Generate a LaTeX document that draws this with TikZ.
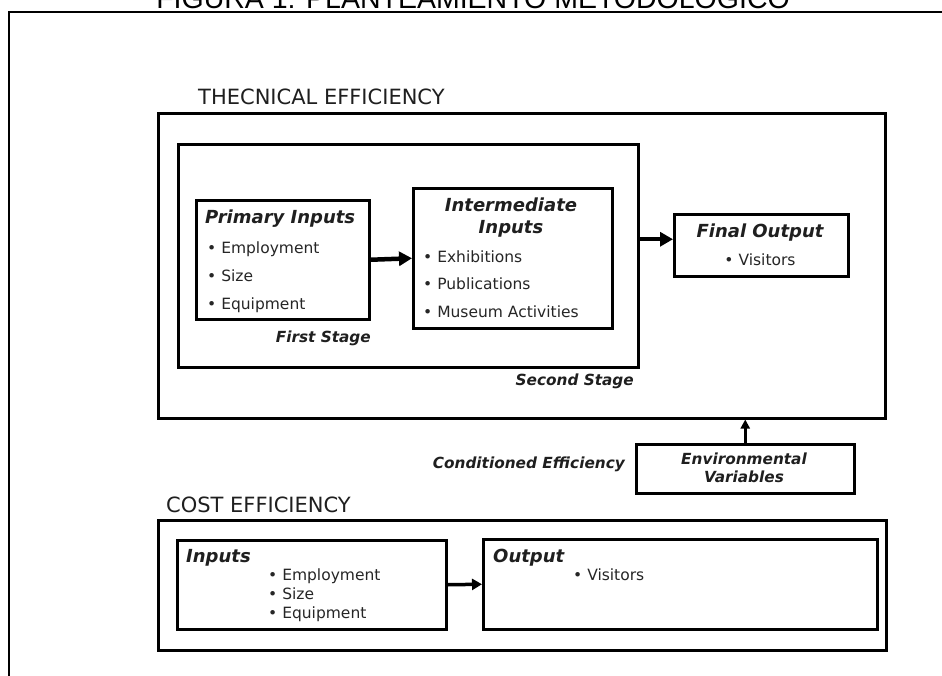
\documentclass[tikz,border=0pt]{standalone}
\usepackage{fontspec}
\setmainfont{DejaVu Sans}
\newfontfamily\titlefont{Liberation Sans}
\usetikzlibrary{arrows.meta}
\begin{document}
\begin{tikzpicture}[x=1pt,y=-1pt,
  box/.style={draw=black, line width=2.5pt, inner sep=0pt, anchor=north west},
  heading/.style={font=\bfseries\itshape\fontsize{18}{20}\selectfont, inner sep=0pt, text=black!88},
  stagelbl/.style={font=\bfseries\itshape\fontsize{15.3}{18}\selectfont, inner sep=0pt, text=black!88},
  itemtxt/.style={font=\fontsize{15.5}{18}\selectfont, inner sep=0pt, text=black!85, anchor=base west},
  sectiontxt/.style={font=\fontsize{21}{24}\selectfont, inner sep=0pt, text=black!88, anchor=base west},
  bigarrow/.style={line width=4.5pt, -{Triangle[length=13pt,width=14pt]}},
  midarrow/.style={line width=3.5pt, -{Triangle[length=10pt,width=11pt]}},
  smallarrow/.style={line width=3pt, -{Triangle[length=9pt,width=9pt]}}
]
\useasboundingbox (0,0) rectangle (942,675);
\fill[white] (0,0) rectangle (942,675);

% title (cut off at top, as in the reference)
\node[font=\titlefont\fontsize{28.5}{30}\selectfont, inner sep=0pt, anchor=base] (title) at (473,8) {FIGURA 1: PLANTEAMIENTO METODOLÓGICO};
% outer frame
\coordinate (frtr) at (945,12);
\coordinate (frtl) at (9,12);
\coordinate (frbl) at (9,678);
\draw[line width=2pt] (frtr) -- (frtl) -- (frbl);

% technical efficiency
\node[sectiontxt] (telbl) at (198,104) {THECNICAL EFFICIENCY};
\node[box, minimum width=727pt, minimum height=305pt] (te) at (157,112) {};
\node[box, line width=3pt, minimum width=460pt, minimum height=223pt] (ss) at (177,143) {};
\node[box, minimum width=173pt, minimum height=119pt] (pi) at (195,199) {};
\node[box, minimum width=199pt, minimum height=140pt] (ii) at (412,187) {};
\node[box, minimum width=174pt, minimum height=62pt] (fo) at (673,213) {};

\node[heading, anchor=base west] (pih) at (205,223) {Primary Inputs};
\node[itemtxt] (pi1) at (207,253) {\textbullet\ Employment};
\node[itemtxt] (pi2) at (207,281) {\textbullet\ Size};
\node[itemtxt] (pi3) at (207,309) {\textbullet\ Equipment};

\node[heading, anchor=base] (iih1) at (511,211) {Intermediate};
\node[heading, anchor=base] (iih2) at (511,233) {Inputs};
\node[itemtxt] (ii1) at (423,262) {\textbullet\ Exhibitions};
\node[itemtxt] (ii2) at (423,289) {\textbullet\ Publications};
\node[itemtxt] (ii3) at (423,317) {\textbullet\ Museum Activities};

\node[stagelbl, anchor=base east] (fs) at (371,342) {First Stage};
\node[stagelbl, anchor=base east] (sst) at (634,385) {Second Stage};

\node[heading, anchor=base] (foh) at (760,237) {Final Output};
\node[itemtxt, anchor=base] (fo1) at (760,265) {\textbullet\ Visitors};

\draw[bigarrow] (pi.east) -- (ii.west);
\coordinate (foin) at ([yshift=6pt]fo.west);
\draw[bigarrow, line width=4pt] (ss.east |- foin) -- (foin);

% environmental variables
\node[box, minimum width=218pt, minimum height=49pt] (ev) at (635,443) {};
\node[stagelbl, anchor=base] (ev1) at (744,464) {Environmental};
\node[stagelbl, anchor=base] (ev2) at (744,482) {Variables};
\node[stagelbl, anchor=base east] (cond) at (625,468) {Conditioned Efficiency};
\draw[smallarrow] (ev.north) -- (ev.north |- te.south);

% cost efficiency
\node[sectiontxt] (celbl) at (166,512) {COST EFFICIENCY};
\node[box, minimum width=728pt, minimum height=130pt] (ce) at (157,519) {};
\node[box, minimum width=269pt, minimum height=89pt] (in) at (176,539) {};
\node[box, minimum width=394pt, minimum height=90pt] (out) at (482,538) {};

\node[heading, anchor=base west] (inh) at (186,562) {Inputs};
\node[itemtxt] (in1) at (268,580) {\textbullet\ Employment};
\node[itemtxt] (in2) at (268,599) {\textbullet\ Size};
\node[itemtxt] (in3) at (268,618) {\textbullet\ Equipment};

\node[heading, anchor=base west] (outh) at (493,562) {Output};
\node[itemtxt] (out1) at (573,580) {\textbullet\ Visitors};

\draw[midarrow] (in.east) -- (out.west);
\end{tikzpicture}
\end{document}
